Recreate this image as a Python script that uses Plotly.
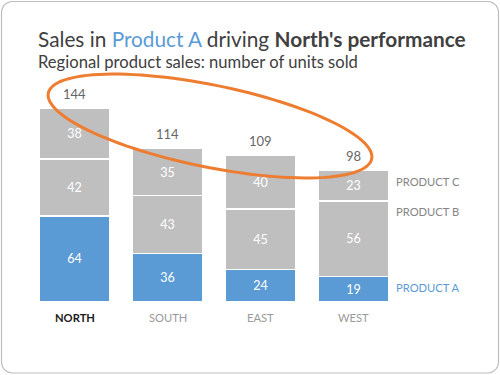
import numpy as np
import plotly.graph_objects as go

regions = ["NORTH", "SOUTH", "EAST", "WEST"]
product_a = [64, 36, 24, 19]
product_b = [42, 43, 45, 56]
product_c = [38, 35, 40, 23]
series_names = ["PRODUCT A", "PRODUCT B", "PRODUCT C"]
totals = [a + b + c for a, b, c in zip(product_a, product_b, product_c)]

BLUE = "#5B9BD5"
GRAY = "#BFBFBF"
FONT = "Lato"

W, H = 500, 375
# pixel geometry
x0_px, dx_px = 74.5, 93.0
base_px, unit_px = 302.0, 1.347

fig = go.Figure()
for name, vals, col in zip(series_names, [product_a, product_b, product_c], [BLUE, GRAY, GRAY]):
    fig.add_trace(go.Bar(
        x=regions, y=vals, name=name, marker=dict(color=col, line=dict(color="white", width=1.5)),
        width=0.765, text=vals, texttemplate="%{text}", textposition="inside",
        insidetextanchor="middle", textfont=dict(color="white", size=12.5, family=FONT),
        constraintext="none", hoverinfo="skip"))

ann = []
for r, t in zip(regions, totals):
    ann.append(dict(x=r, y=t, xref="x", yref="y", text=str(t), showarrow=False,
                    yshift=14, font=dict(size=13, color="#666666", family=FONT)))
for i, r in enumerate(regions):
    if i == 0:
        txt, col = "<b>%s</b>" % r, "#1a1a1a"
    else:
        txt, col = r, "#999999"
    ann.append(dict(x=r, y=0, xref="x", yref="y", text=txt, showarrow=False, yshift=-15,
                    font=dict(size=11.2, color=col, family=FONT)))

# legend labels to the right of the last bar
w = len(regions) - 1
lab_y = [product_a[w] / 2 + 1.5, product_a[w] + product_b[w] - 8, totals[w] - product_c[w] / 2 + 3]
lab_col = [BLUE, "#858585", "#858585"]
for nm, yy, c in zip(series_names, lab_y, lab_col):
    ann.append(dict(x=394 / W, y=yy, xref="paper", yref="y", text=nm, showarrow=False,
                    xanchor="left", font=dict(size=11.2, color=c, family=FONT)))

ann.append(dict(x=36 / W, y=1 - 39 / H, xref="paper", yref="paper", xanchor="left", yanchor="middle",
                showarrow=False,
                text="Sales in <span style='color:%s'>Product A</span> driving <b>North's performance</b>" % BLUE,
                font=dict(size=20.8, color="#404040", family=FONT)))
ann.append(dict(x=36 / W, y=1 - 62 / H, xref="paper", yref="paper", xanchor="left", yanchor="middle",
                showarrow=False, text="Regional product sales: number of units sold",
                font=dict(size=16.6, color="#404040", family=FONT)))

# orange ellipse (pixel geometry)
cx, cy, a, b, th = 210, 126, 165, 41, np.deg2rad(11.5)
t = np.linspace(0, 2 * np.pi, 120)
ex = cx + a * np.cos(th) * np.cos(t) - b * np.sin(th) * np.sin(t)
ey = cy + a * np.sin(th) * np.cos(t) + b * np.cos(th) * np.sin(t)
path = "M " + " L ".join("%.4f,%.4f" % (px / W, 1 - py / H) for px, py in zip(ex, ey)) + " Z"

# rounded border
def rr(x1, y1, x2, y2, r):
    pts = []
    for (ccx, ccy, a0) in [(x2 - r, y1 + r, -90), (x2 - r, y2 - r, 0), (x1 + r, y2 - r, 90), (x1 + r, y1 + r, 180)]:
        for ang in np.linspace(a0, a0 + 90, 8):
            pts.append((ccx + r * np.cos(np.deg2rad(ang)), ccy + r * np.sin(np.deg2rad(ang))))
    return "M " + " L ".join("%.4f,%.4f" % (px / W, 1 - py / H) for px, py in pts) + " Z"

shapes = [
    dict(type="path", path=rr(1.5, 1.5, 498.5, 373, 11), xref="paper", yref="paper",
         line=dict(color="#bdbdbd", width=1.2)),
    dict(type="path", path=path, xref="paper", yref="paper", line=dict(color="#ED7D31", width=3)),
]

fig.update_layout(
    width=W, height=H, margin=dict(l=0, r=0, t=0, b=0),
    barmode="stack", showlegend=False, plot_bgcolor="white", paper_bgcolor="white",
    xaxis=dict(type="category", range=[-x0_px / dx_px, (W - x0_px) / dx_px], visible=False),
    yaxis=dict(range=[-(H - base_px) / unit_px, base_px / unit_px], visible=False),
    annotations=ann, shapes=shapes, font=dict(family=FONT),
)
fig.write_html("out.html", config={"displayModeBar": False},
               post_script="document.body.style.margin='0';document.body.style.overflow='hidden';")
